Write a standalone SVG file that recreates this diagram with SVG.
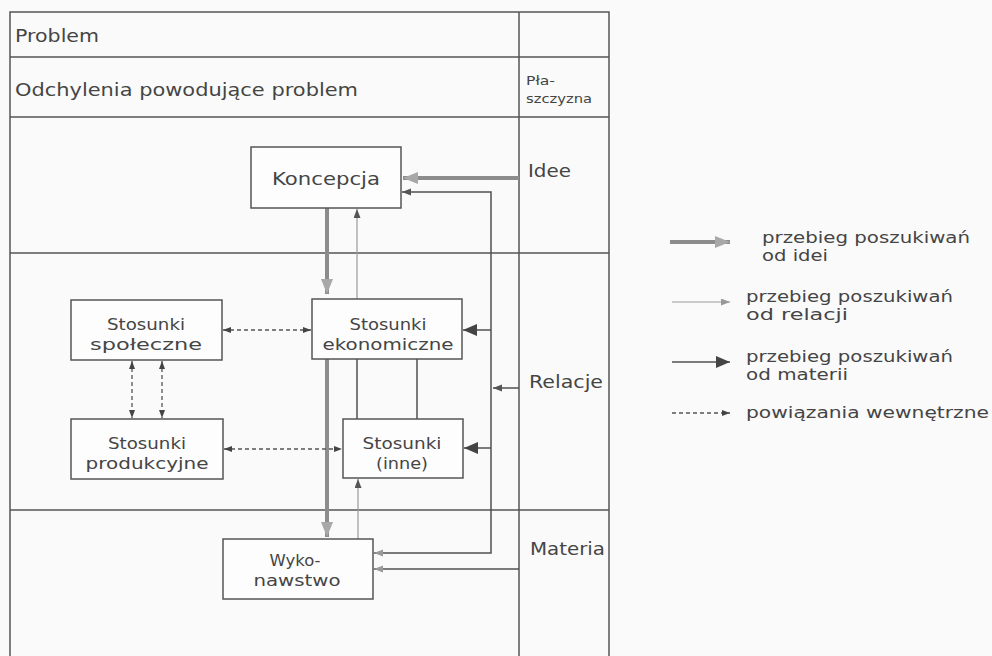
<svg xmlns="http://www.w3.org/2000/svg" width="992" height="656" viewBox="0 0 992 656">
<style>
.t{font-family:"DejaVu Sans","Liberation Sans",sans-serif;fill:#454545;font-size:17px}
.b{font-size:15px}
.l{font-size:15px}
.s{font-size:12px}
.k{font-size:18px}
.c{text-anchor:middle}
.frame{stroke:#555;stroke-width:1.5;fill:none}
.box{fill:#fdfdfd;stroke:#555;stroke-width:1.5}
.thick{stroke:#8c8c8c;stroke-width:4;fill:none}
.thin{stroke:#9a9a9a;stroke-width:1.2;fill:none}
.dark{stroke:#505050;stroke-width:1.5;fill:none}
.dash{stroke:#555;stroke-width:1.3;stroke-dasharray:4 3;fill:none}
</style>
<defs>
<marker id="big" markerUnits="userSpaceOnUse" markerWidth="15" markerHeight="13" refX="14" refY="6" orient="auto-start-reverse"><path d="M0,0 L14,6 L0,12 z" fill="#444"/></marker>
<marker id="sm" markerUnits="userSpaceOnUse" markerWidth="10" markerHeight="8" refX="9" refY="3.5" orient="auto-start-reverse"><path d="M0,0 L9,3.5 L0,7 z" fill="#555"/></marker>
<marker id="smg" markerUnits="userSpaceOnUse" markerWidth="10" markerHeight="8" refX="9" refY="3.5" orient="auto-start-reverse"><path d="M0,0 L9,3.5 L0,7 z" fill="#999"/></marker>
<marker id="dh" markerUnits="userSpaceOnUse" markerWidth="9" markerHeight="7" refX="8" refY="3" orient="auto-start-reverse"><path d="M0,0 L8,3 L0,6 z" fill="#444"/></marker>
<marker id="gh" markerUnits="userSpaceOnUse" markerWidth="16" markerHeight="13" refX="15" refY="6" orient="auto-start-reverse"><path d="M0,0 L15,6 L0,12 z" fill="#a8a8a8"/></marker>
</defs>
<rect width="992" height="656" fill="#fafafa"/>
<g id="table">
<path class="frame" d="M10,656 V12 H609 V656 M519,12 V656 M10,57 H609 M10,117 H609 M10,253 H609 M10,510 H609"/>
<text class="t" x="15" y="42" textLength="84" lengthAdjust="spacingAndGlyphs">Problem</text>
<text class="t" x="15" y="96" textLength="343" lengthAdjust="spacingAndGlyphs">Odchylenia powodujące problem</text>
<text class="t s" x="526" y="85" textLength="29" lengthAdjust="spacingAndGlyphs">Pła-</text>
<text class="t s" x="526" y="103" textLength="66" lengthAdjust="spacingAndGlyphs">szczyzna</text>
<text class="t" x="528" y="177" textLength="43" lengthAdjust="spacingAndGlyphs">Idee</text>
<text class="t" x="529" y="388" textLength="74" lengthAdjust="spacingAndGlyphs">Relacje</text>
<text class="t" x="530" y="555" textLength="75" lengthAdjust="spacingAndGlyphs">Materia</text>
</g>
<g id="connectors">
<path class="thick" d="M519,178 H403" marker-end="url(#gh)"/>
<path class="thick" d="M327,208 V294" marker-end="url(#gh)"/>
<path class="thick" d="M327,359 V537" marker-end="url(#gh)"/>
<path class="thin" d="M357,299 V209" marker-end="url(#sm)"/>
<path class="thin" d="M358,539 V479" marker-end="url(#sm)"/>
<path class="dark" d="M357,359 V419 M417,359 V419"/>
<path class="dark" d="M402,192 H491 V553 H374" marker-start="url(#sm)" marker-end="url(#smg)"/>
<path class="dark" d="M519,569 H374" marker-end="url(#smg)"/>
<path class="dark" d="M519,388 H493" marker-end="url(#sm)"/>
<path class="dark" d="M491,330 H463" marker-end="url(#big)"/>
<path class="dark" d="M491,448 H464" marker-end="url(#big)"/>
<path class="dash" d="M223,330 H311" marker-start="url(#dh)" marker-end="url(#dh)"/>
<path class="dash" d="M132,361 V418" marker-start="url(#dh)" marker-end="url(#dh)"/>
<path class="dash" d="M162,361 V418" marker-start="url(#dh)" marker-end="url(#dh)"/>
<path class="dash" d="M224,449 H342" marker-start="url(#dh)" marker-end="url(#dh)"/>
</g>
<g id="koncepcja">
<rect class="box" x="251" y="147" width="150" height="61"/>
<text class="t k c" x="326" y="185" textLength="108" lengthAdjust="spacingAndGlyphs">Koncepcja</text>
</g>
<g id="spoleczne">
<rect class="box" x="71" y="300" width="151" height="60"/>
<text class="t b c" x="146" y="330" textLength="78" lengthAdjust="spacingAndGlyphs">Stosunki</text>
<text class="t b c" x="146" y="350" textLength="112" lengthAdjust="spacingAndGlyphs">społeczne</text>
</g>
<g id="ekonomiczne">
<rect class="box" x="312" y="299" width="150" height="60"/>
<text class="t b c" x="388" y="330" textLength="77" lengthAdjust="spacingAndGlyphs">Stosunki</text>
<text class="t b c" x="388" y="350" textLength="131" lengthAdjust="spacingAndGlyphs">ekonomiczne</text>
</g>
<g id="produkcyjne">
<rect class="box" x="71" y="419" width="152" height="60"/>
<text class="t b c" x="147" y="449" textLength="78" lengthAdjust="spacingAndGlyphs">Stosunki</text>
<text class="t b c" x="147" y="469" textLength="123" lengthAdjust="spacingAndGlyphs">produkcyjne</text>
</g>
<g id="inne">
<rect class="box" x="343" y="419" width="120" height="59"/>
<text class="t b c" x="402" y="449" textLength="79" lengthAdjust="spacingAndGlyphs">Stosunki</text>
<text class="t b c" x="402" y="469" textLength="52" lengthAdjust="spacingAndGlyphs">(inne)</text>
</g>
<g id="wykonawstwo">
<rect class="box" x="223" y="539" width="150" height="60"/>
<text class="t b c" x="295" y="566" textLength="51" lengthAdjust="spacingAndGlyphs">Wyko-</text>
<text class="t b c" x="297" y="586" textLength="87" lengthAdjust="spacingAndGlyphs">nawstwo</text>
</g>
<g id="legend">
<path class="thick" d="M670,242 H730" marker-end="url(#gh)"/>
<path class="thin" d="M672,302 H730" marker-end="url(#smg)"/>
<path class="dark" d="M672,362 H730" marker-end="url(#big)"/>
<path class="dash" d="M672,413 H730" marker-end="url(#dh)"/>
<text class="t l" x="762" y="243" textLength="208" lengthAdjust="spacingAndGlyphs">przebieg poszukiwań</text>
<text class="t l" x="762" y="261" textLength="66" lengthAdjust="spacingAndGlyphs">od idei</text>
<text class="t l" x="746" y="302" textLength="207" lengthAdjust="spacingAndGlyphs">przebieg poszukiwań</text>
<text class="t l" x="746" y="320" textLength="102" lengthAdjust="spacingAndGlyphs">od relacji</text>
<text class="t l" x="746" y="362" textLength="207" lengthAdjust="spacingAndGlyphs">przebieg poszukiwań</text>
<text class="t l" x="746" y="380" textLength="102" lengthAdjust="spacingAndGlyphs">od materii</text>
<text class="t l" x="746" y="418" textLength="243" lengthAdjust="spacingAndGlyphs">powiązania wewnętrzne</text>
</g>
</svg>
